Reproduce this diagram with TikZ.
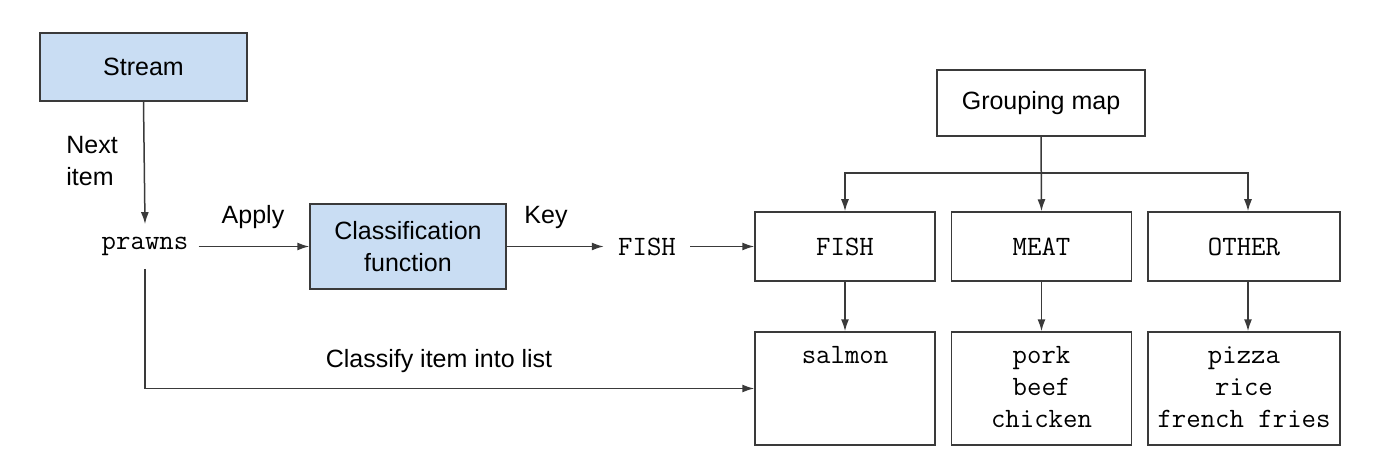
\documentclass[tikz,border=0pt]{standalone}
\usepackage{fontspec}
\setmainfont{Liberation Sans}
\usetikzlibrary{arrows.meta}
\definecolor{boxblue}{HTML}{C9DDF3}
\definecolor{linegray}{HTML}{3A3A3A}
\tikzset{
	box/.style={draw=linegray, line width=0.75pt, inner sep=0pt, align=center, font=\fontsize{12.5}{16}\selectfont},
	bluebox/.style={box, fill=boxblue},
	keybox/.style={box, minimum height=34.5pt, font=\ttfamily\fontsize{14}{16}\selectfont},
	listbox/.style={box, minimum height=56.5pt},
	codetext/.style={font=\ttfamily\fontsize{14}{16}\selectfont, inner sep=0pt, align=center},
	lbltext/.style={font=\fontsize{12.5}{16}\selectfont, inner sep=0pt},
	conn/.style={draw=linegray, line width=0.75pt, -{Latex[length=6pt,width=4pt]}},
}

\begin{document}
\begin{tikzpicture}[x=0.5pt, y=-0.5pt]
		%%%%% START %%%%%
		\useasboundingbox (0, 0) rectangle (1390, 470);
		
		% left part
		\node[bluebox, minimum width=103.5pt, minimum height=34pt] (stream) at (143.5, 67) {Stream};
		\node[codetext, minimum height=22pt, inner xsep=5pt] (prawns) at (145, 246.5) {prawns};
		\node[bluebox, minimum width=98pt, minimum height=42.5pt] (classify) at (408, 246.5) {Classification\\function};
		\node[codetext, minimum height=22pt, inner xsep=7pt] (key) at (647, 246.5) {FISH};
		
		\draw[conn] (stream.south) -- (prawns.north);
		\draw[conn] (prawns.east) -- (classify.west);
		\draw[conn] (classify.east) -- (key.west);
		
		\node[lbltext, anchor=west, align=left] (nextlbl) at (66, 161) {Next\\item};
		\node[lbltext] (applylbl) at (253, 217) {Apply};
		\node[lbltext] (keylbl) at (546, 217) {Key};
		\node[lbltext] (intolbl) at (439, 361) {Classify item into list};
		
		% grouping map
		\node[box, minimum width=104pt, minimum height=33pt] (group) at (1041, 103) {Grouping map};
		
		\node[keybox, minimum width=90pt] (fishkey) at (845, 246.5) {FISH};
		\node[keybox, minimum width=90pt] (meatkey) at (1041.5, 246.5) {MEAT};
		\node[keybox, minimum width=96pt] (otherkey) at (1244, 246.5) {OTHER};
		
		\node[listbox, minimum width=90pt] (fishlist) at (845, 388.5) {};
		\node[listbox, minimum width=90pt] (meatlist) at (1041.5, 388.5) {};
		\node[listbox, minimum width=96pt] (otherlist) at (1244, 388.5) {};
		
		\node[codetext, anchor=north] (fishitems) at (845, 341) {\strut salmon};
		\node[codetext, anchor=north] (meatitems) at (1041.5, 341) {\strut pork\\beef\\chicken};
		\node[codetext, anchor=north] (otheritems) at (1244, 341) {\strut pizza\\rice\\french fries};
		
		\coordinate (split) at (1041, 173);
		\draw[conn] (group.south) -- (meatkey.north);
		\draw[conn] (split) -| (fishkey.north);
		\draw[conn] (split) -| ([xshift=2pt]otherkey.north);
		
		\draw[conn] (key.east) -- (fishkey.west);
		\draw[conn] (fishkey.south) -- (fishlist.north);
		\draw[conn] (meatkey.south) -- (meatlist.north);
		\draw[conn] ([xshift=2pt]otherkey.south) -- ([xshift=2pt]otherlist.north);
		
		\draw[conn] (prawns.south) |- (fishlist.west);
		
		%%%%% END %%%%%
\end{tikzpicture}
\end{document}
